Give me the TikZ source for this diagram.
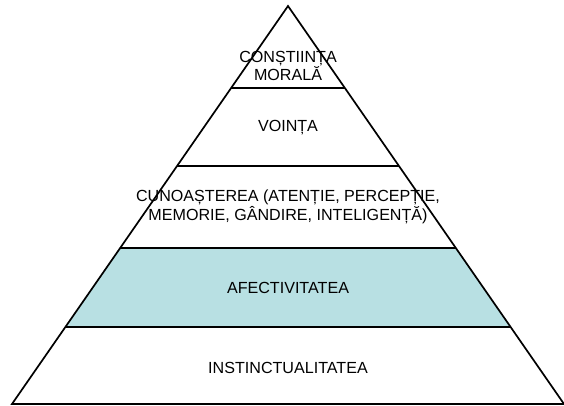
\documentclass[tikz,border=0pt]{standalone}
\usepackage{fontspec}
\setmainfont{Liberation Sans}
\usetikzlibrary{calc}
\definecolor{afectblue}{RGB}{184,224,227}

\begin{document}
\begin{tikzpicture}[x=1pt, y=-1pt, level/.style={font=\fontsize{16.1}{16.5}\selectfont, align=center}]
	\useasboundingbox (0, 0) rectangle (564, 406);
	\coordinate (top) at (288, 6);
	\coordinate (bl) at (12, 404);
	\coordinate (br) at (564, 404);
	% level borders on the two sides
	\foreach \name/\t in {a/0.206, b/0.402, c/0.608, d/0.8065} {
		\coordinate (\name-l) at ($(top)!\t!(bl)$);
		\coordinate (\name-r) at ($(top)!\t!(br)$);
	}
	\fill [afectblue] (c-l) -- (c-r) -- (d-r) -- (d-l) -- cycle;
	\node [level] (moral) at (288, 66) {CONȘTIINȚA\\MORALĂ};
	\node [level] (vointa) at (288, 128) {VOINȚA};
	\node [level] (cunoast) at (288, 207) {CUNOAȘTEREA (ATENȚIE, PERCEPȚIE,\\MEMORIE, GÂNDIRE, INTELIGENȚĂ)};
	\node [level] (afect) at (288, 288) {AFECTIVITATEA};
	\node [level] (instinct) at (288, 368) {INSTINCTUALITATEA};
	\draw [line width=1.7pt] (top) -- (bl) -- (br) -- cycle;
	\draw [line width=1.9pt] (a-l) -- (a-r);
	\draw [line width=1.9pt] (b-l) -- (b-r);
	\draw [line width=1.9pt] (c-l) -- (c-r);
	\draw [line width=1.9pt] (d-l) -- (d-r);
\end{tikzpicture}
\end{document}
